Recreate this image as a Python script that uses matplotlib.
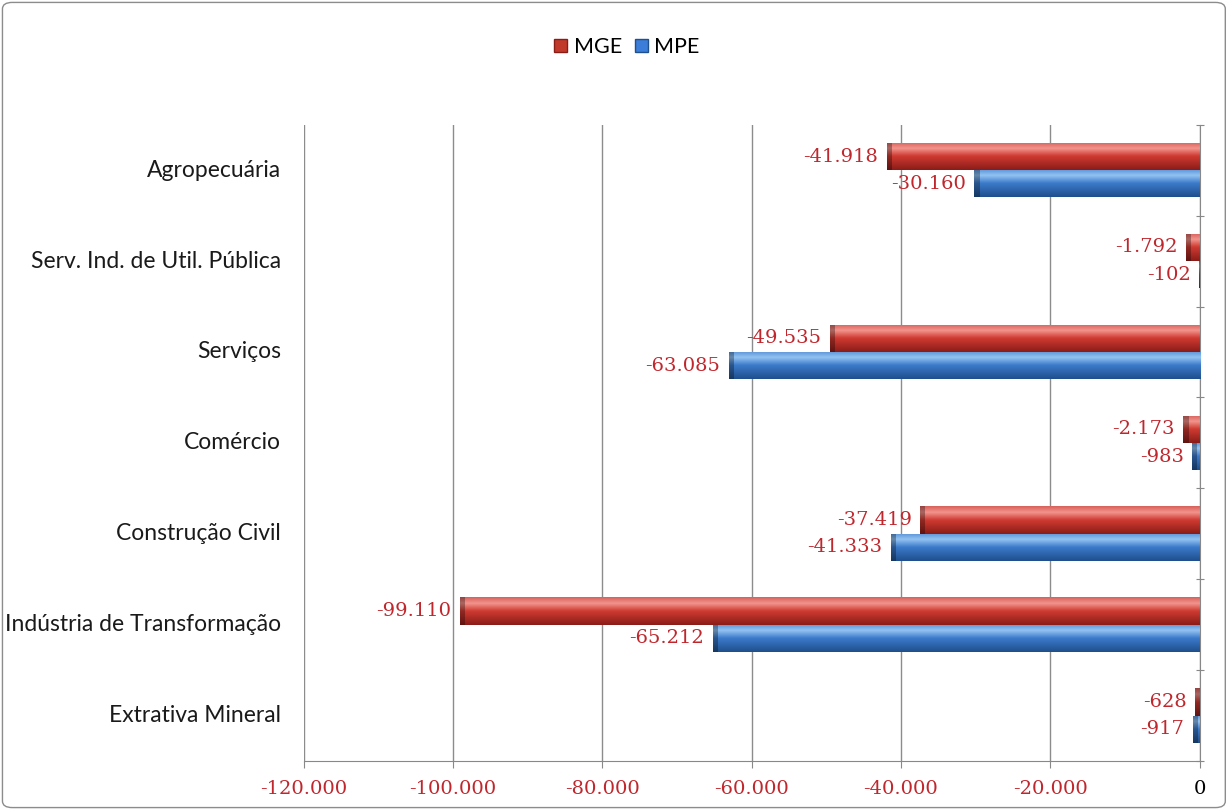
import numpy as np
import matplotlib.pyplot as plt
from matplotlib.colors import LinearSegmentedColormap
from matplotlib.patches import FancyBboxPatch, Patch

# dados (de cima para baixo)
categorias = ['Agropecuária', 'Serv. Ind. de Util. Pública', 'Serviços', 'Comércio',
              'Construção Civil', 'Indústria de Transformação', 'Extrativa Mineral']
mge = [-41918, -1792, -49535, -2173, -37419, -99110, -628]
mpe = [-30160, -102, -63085, -983, -41333, -65212, -917]
series = ['MGE', 'MPE']
xticks = [-120000, -100000, -80000, -60000, -40000, -20000, 0]

red_txt = '#c0272d'
cmap_red = LinearSegmentedColormap.from_list(
    'r', [(0, '#d8625c'), (0.22, '#f2948c'), (0.5, '#cf3a31'), (1, '#8a1c18')])
cmap_blue = LinearSegmentedColormap.from_list(
    'b', [(0, '#5a93d8'), (0.22, '#93c3f2'), (0.5, '#3c7bcb'), (1, '#1f4f8c')])


def fmt(v):
    s = f'{abs(v):,}'.replace(',', '.')
    return '-' + s if v < 0 else s


fig = plt.figure(figsize=(12.29, 8.10), dpi=100)
ax = fig.add_axes([0.247, 0.0605, 0.729, 0.7855])

y = np.arange(len(categorias))
h = 0.3
bars_r = ax.barh(y - h / 2, mge, height=h, color='#c0392b', zorder=2)
bars_b = ax.barh(y + h / 2, mpe, height=h, color='#3b7dd8', zorder=2)

ax.set_xlim(-120000, 0)
ax.set_ylim(len(categorias) - 0.5, -0.5)

# efeito cilindro com gradiente
grad = np.linspace(0, 1, 64).reshape(-1, 1)
for bars, cm in ((bars_r, cmap_red), (bars_b, cmap_blue)):
    for p in bars:
        x0, y0 = p.get_x(), p.get_y()
        w, hh = p.get_width(), p.get_height()
        im = ax.imshow(grad, cmap=cm, aspect='auto', zorder=3,
                       extent=(x0 + w, x0, y0 + hh, y0), interpolation='bilinear')
        im.set_clip_path(p)
        # tampa escura na ponta esquerda
        cap = min(abs(w), 700)
        ax.barh(y0 + hh / 2, cap, left=x0 + w, height=hh,
                color='black', alpha=0.3, zorder=4, linewidth=0)

ax.set_xlim(-120000, 0)
ax.set_ylim(len(categorias) - 0.5, -0.5)

# rótulos de dados
for vals, off in ((mge, -h / 2), (mpe, h / 2)):
    for i, v in enumerate(vals):
        ax.annotate(fmt(v), (v, i + off), xytext=(-6, 0), textcoords='offset points',
                    ha='right', va='center', color=red_txt, fontsize=14,
                    family='DejaVu Serif', zorder=5)

# eixos
ax.set_xticks(xticks)
ax.set_xticklabels([fmt(t) for t in xticks], family='DejaVu Serif', fontsize=14)
for lab, t in zip(ax.get_xticklabels(), xticks):
    lab.set_color('black' if t == 0 else red_txt)
ax.tick_params(axis='x', length=5, direction='out', color='#888888', pad=9)
ax.xaxis.grid(True, color='#8c8c8c', linewidth=1, zorder=0)
ax.set_axisbelow(True)

ax.yaxis.tick_right()
ax.set_yticks(np.arange(-0.5, len(categorias), 1))
ax.set_yticklabels([])
ax.tick_params(axis='y', length=6, direction='inout', color='#888888')
for i, c in enumerate(categorias):
    ax.text(-0.025, i, c, transform=ax.get_yaxis_transform(), ha='right', va='center',
            fontsize=16.5, family='Lato', color='#1a1a1a')

for s in ('top', 'left'):
    ax.spines[s].set_visible(False)
for s in ('bottom', 'right'):
    ax.spines[s].set_color('#888888')

# legenda
handles = [Patch(facecolor='#c0392b', edgecolor='#8a1c18'),
           Patch(facecolor='#3b7dd8', edgecolor='#1f4f8c')]
fig.legend(handles, series, loc='center', bbox_to_anchor=(0.51, 0.942), ncol=2,
           frameon=False, prop={'family': 'Lato', 'size': 15.5},
           handlelength=0.6, handleheight=0.6, handletextpad=0.3, columnspacing=0.6)

fig.patches.append(FancyBboxPatch((0.002, 0.003), 0.995, 0.994,
                                  boxstyle='round,pad=0,rounding_size=0.008',
                                  transform=fig.transFigure, fill=False,
                                  edgecolor='#8c8c8c', linewidth=1))

fig.savefig('out.png', dpi=100)
